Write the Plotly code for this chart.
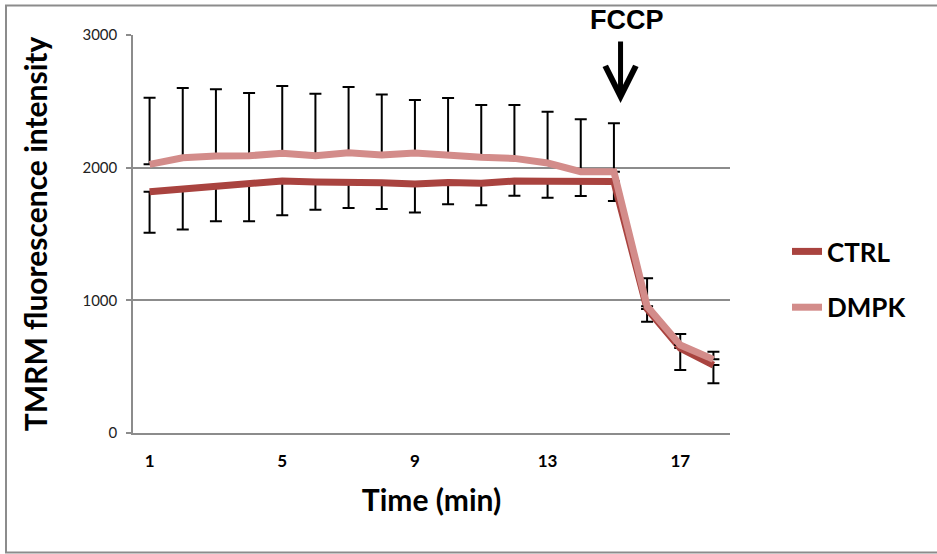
import plotly.graph_objects as go

# ---- data ----
time_min = list(range(1, 19))
ctrl_values = [1819, 1837, 1864, 1882, 1900, 1892, 1892, 1887, 1877, 1888, 1882, 1900, 1897, 1893, 1895, 935, 640, 512]
ctrl_err_minus = [309, 304, 268, 286, 259, 209, 196, 198, 214, 164, 166, 111, 123, 106, 146, 96, 165, 137]
dmpk_values = [2025, 2075, 2088, 2090, 2108, 2090, 2113, 2096, 2110, 2090, 2078, 2070, 2035, 1970, 1970, 955, 663, 555]
dmpk_err_plus = [502, 525, 503, 473, 508, 468, 495, 455, 400, 435, 394, 402, 387, 395, 364, 211, 83, 58]
x_tick_vals = [1, 5, 9, 13, 17]
y_tick_vals = [0, 1000, 2000, 3000]

CTRL_COLOR = "#A9433F"
DMPK_COLOR = "#D38C8A"
GRID = "#8C8C8C"
FONT = "Lato, Carlito, Calibri, sans-serif"

fig = go.Figure()
fig.add_trace(go.Scatter(
    x=time_min, y=ctrl_values, name="CTRL", mode="lines",
    line=dict(color=CTRL_COLOR, width=7),
    error_y=dict(type="data", symmetric=False, array=[0] * len(ctrl_values),
                 arrayminus=ctrl_err_minus, color="black", thickness=2, width=6),
    legendgroup="a",
))
fig.add_trace(go.Scatter(
    x=time_min, y=dmpk_values, name="DMPK", mode="lines",
    line=dict(color=DMPK_COLOR, width=7),
    error_y=dict(type="data", symmetric=False, array=dmpk_err_plus,
                 arrayminus=[0] * len(dmpk_values), color="black", thickness=2, width=6),
    legendgroup="b",
))

W, H = 937, 554
L, R, T, B = 133, 730, 35, 433

def px_x(p):
    return (p - L) / (R - L)

def px_y(p):
    return (B - p) / (B - T)

fig.update_layout(
    width=W, height=H,
    margin=dict(l=L, r=W - R, t=T, b=H - B, autoexpand=False),
    paper_bgcolor="white", plot_bgcolor="white",
    font=dict(family=FONT, color="black"),
    showlegend=True,
    legend=dict(x=px_x(787), xanchor="left", y=px_y(279.5), yanchor="middle",
                font=dict(size=26, family=FONT, color="black", weight="bold"),
                tracegroupgap=19, bgcolor="rgba(0,0,0,0)"),
    xaxis=dict(range=[0.5, 18.5], tickmode="array", tickvals=x_tick_vals,
               ticktext=[str(v) for v in x_tick_vals], showgrid=False, zeroline=False,
               showline=True, linecolor=GRID, linewidth=1.5, ticks="",
               ticklabelstandoff=12,
               tickfont=dict(size=17, family=FONT, weight="bold", color="black"),
               title=dict(text="Time (min)", font=dict(size=30, family=FONT, weight="bold", color="black"),
                          standoff=20)),
    yaxis=dict(range=[0, 3000], tickmode="array", tickvals=y_tick_vals,
               showgrid=True, gridcolor=GRID, gridwidth=1.5, zeroline=False,
               showline=True, linecolor=GRID, linewidth=1.5, ticks="outside",
               ticklen=5, tickcolor=GRID, tickwidth=1.5, ticklabelstandoff=6,
               tickfont=dict(size=15, family=FONT, color="#222222"),
               title=dict(text="TMRM fluorescence intensity",
                          font=dict(size=30, family=FONT, weight="bold", color="black"),
                          standoff=26)),
)

# outer chart frame
fig.add_shape(type="rect", xref="paper", yref="paper",
              x0=px_x(6), x1=px_x(945), y0=px_y(552.5), y1=px_y(5.5),
              line=dict(color=GRID, width=2), layer="below")

# FCCP label and arrow
fig.add_annotation(x=15.39, xref="x", y=px_y(20), yref="paper", text="<b>FCCP</b>",
                   showarrow=False, yanchor="middle",
                   font=dict(family="Liberation Sans, Arial", size=27, color="black"))
fig.add_annotation(x=15.2, xref="x", y=2487, yref="y", text="", showarrow=True,
                   ax=0, ay=-63, arrowhead=5, arrowwidth=5, arrowsize=1.2,
                   arrowcolor="black", standoff=0)

fig.write_html("out.html", config={"displayModeBar": False},
               post_script="document.body.style.margin='0';")
